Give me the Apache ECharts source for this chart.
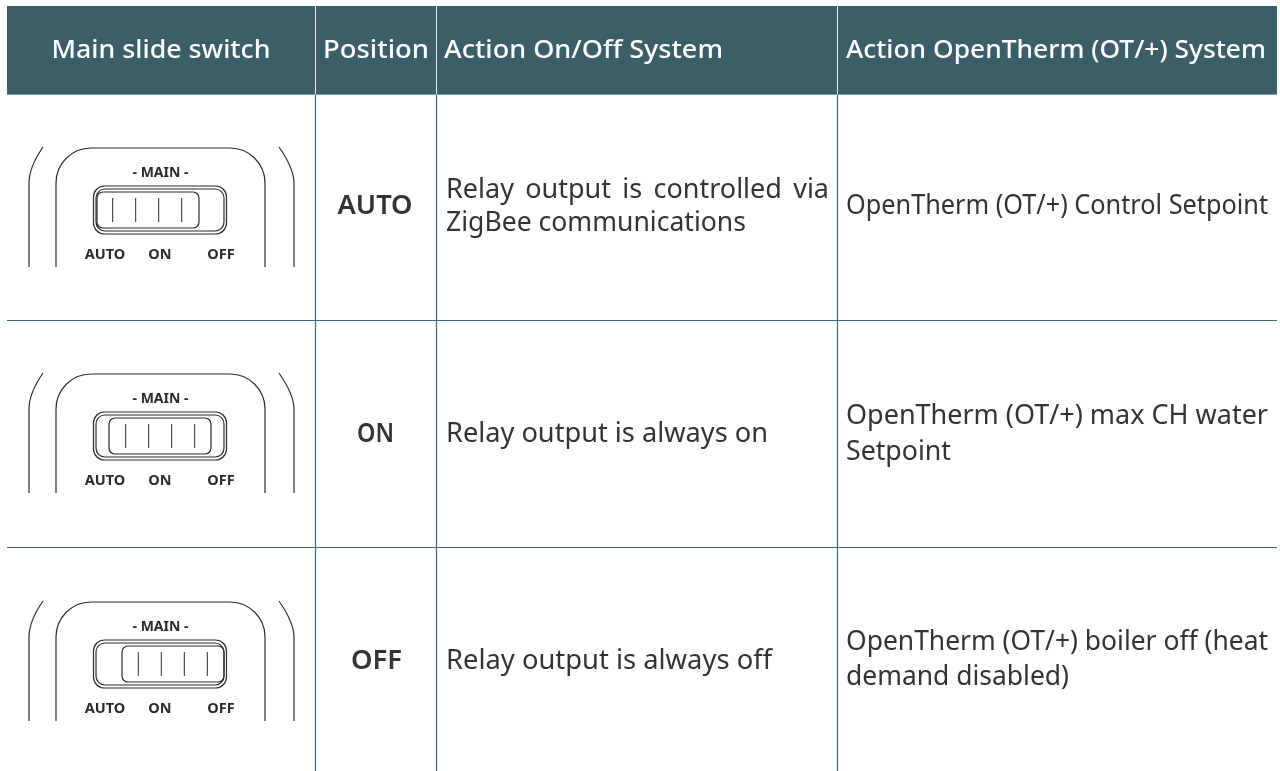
<!DOCTYPE html>
<html>
<head>
    <meta charset="utf-8">
    <script src="https://cdn.jsdelivr.net/npm/echarts@6/dist/echarts.min.js"></script>
    <style>html,body{margin:0;background:#fff}</style>
</head>
<body>
    <div id="main" style="width:1280px;height:771px;"></div>
    <script type="text/javascript">

var headers = ['Main slide switch', 'Position', 'Action On/Off System', 'Action OpenTherm (OT/+) System'];
var positions = ['AUTO', 'ON', 'OFF'];
var onOffLines = [
    ['Relay output is controlled via', 'ZigBee communications'],
    ['Relay output is always on'],
    ['Relay output is always off']
];
var openThermLines = [
    ['OpenTherm (OT/+) Control Setpoint'],
    ['OpenTherm (OT/+) max CH water', 'Setpoint'],
    ['OpenTherm (OT/+) boiler off (heat', 'demand disabled)']
];
var switchTitle = '- MAIN -';
var switchLabels = ['AUTO', 'ON', 'OFF'];

// layout
var FONT = '"Noto Sans"';
var HEAD = '#3c5e69', LINE = '#3f6875', INK = '#2b2b2b', TXT = '#333333';
var LEFT = 7, RIGHT = 1277;
var colLines = [315, 436, 837];
var rowLines = [320, 547];
var rowTop = [148, 374, 602];       // top of the switch drawing in each row
var sliderX = [97, 109, 122];
var tickX0 = [112.7, 125.7, 138.3];

// text baselines and measured widths
var headX = [161, 323, 444, 846], headAlign = ['center', 'left', 'left', 'left'];
var headWidth = [219, 106, 279, 420];
var posX = [375, 375.5, 376.5], posWidth = [75, 37, 51], posBase = [217, 445, 672];
var onOffBase = [[201, 234], [445], [672]];
var onOffWidth = [[383, 300], [322], [326]];
var otBase = [[217], [427, 463], [653, 688]];
var otWidth = [[422], [422, 105], [422, 223]];

var measure = document.createElement('canvas').getContext('2d');
function textW(t, size, weight) {
    measure.font = (weight || 'normal') + ' ' + size + 'px ' + FONT;
    return measure.measureText(t).width;
}

var els = [];

function line(x1, y1, x2, y2, color, w) {
    return {type: 'line', shape: {x1: x1, y1: y1, x2: x2, y2: y2}, style: {stroke: color, lineWidth: w}, silent: true};
}
function text(t, x, y, size, color, weight, align) {
    return {type: 'text', x: x, y: y, silent: true, style: {
        text: t, fill: color, fontFamily: FONT, fontSize: size, fontWeight: weight || 'normal',
        align: align || 'left', verticalAlign: 'middle'
    }};
}
// text placed on a baseline and squeezed to the width
function fitted(t, x, base, size, color, weight, align, width) {
    var el = text(t, x, base - 0.388 * size, size, color, weight, align);
    el.scaleX = width / textW(t, size, weight);
    return el;
}
// justified line: keep the glyphs, widen the gaps
function spread(t, x, base, size, color, width) {
    var words = t.split(' ');
    var used = 0;
    words.forEach(function (w) { used += textW(w, size); });
    var gap = (width - used) / (words.length - 1);
    words.forEach(function (w) {
        els.push(text(w, x, base - 0.388 * size, size, color));
        x += textW(w, size) + gap;
    });
}
function rrect(x, y, w, h, r, lw) {
    return {type: 'rect', shape: {x: x, y: y, width: w, height: h, r: r}, style: {fill: 'none', stroke: INK, lineWidth: lw}, silent: true};
}
function corner(cx, cy, r, a0, a1) {
    return {type: 'arc', shape: {cx: cx, cy: cy, r: r, startAngle: a0, endAngle: a1, clockwise: true}, style: {fill: 'none', stroke: INK, lineWidth: 1.2}, silent: true};
}
function curve(x1, y1, c1x, c1y, c2x, c2y, x2, y2) {
    return {type: 'bezierCurve', shape: {x1: x1, y1: y1, cpx1: c1x, cpy1: c1y, cpx2: c2x, cpy2: c2y, x2: x2, y2: y2}, style: {fill: 'none', stroke: INK, lineWidth: 1.2}, silent: true};
}

// header band
els.push({type: 'rect', shape: {x: LEFT, y: 6, width: RIGHT - LEFT, height: 88}, style: {fill: HEAD}, silent: true});
colLines.forEach(function (x) {
    els.push(line(x + 0.5, 6, x + 0.5, 94, '#e8eef0', 1));
    els.push(line(x + 0.5, 94, x + 0.5, 771, LINE, 1.2));
});
els.push(line(LEFT, 94.5, RIGHT, 94.5, '#7d99a3', 1));
rowLines.forEach(function (y) {
    els.push(line(LEFT, y + 0.5, RIGHT, y + 0.5, LINE, 1.2));
});

headers.forEach(function (h, i) {
    els.push(fitted(h, headX[i], 61, 26, '#ffffff', 500, headAlign[i], headWidth[i]));
});

// one switch drawing per row
positions.forEach(function (p, i) {
    var t = rowTop[i];
    var bottom = t + 119;
    // outer body sides
    els.push(curve(43, t - 1, 34, t + 12, 29, t + 24, 29, t + 35));
    els.push(line(29, t + 35, 29, bottom, INK, 1.2));
    els.push(curve(279, t - 1, 288, t + 12, 294, t + 24, 294, t + 35));
    els.push(line(294, t + 35, 294, bottom, INK, 1.2));
    // inner body, open at the bottom
    els.push(corner(91, t + 35, 35, Math.PI, 1.5 * Math.PI));
    els.push(corner(230, t + 35, 35, 1.5 * Math.PI, 2 * Math.PI));
    els.push(line(91, t, 230, t, INK, 1.2));
    els.push(line(56, t + 35, 56, bottom, INK, 1.2));
    els.push(line(265, t + 35, 265, bottom, INK, 1.2));
    // slide track
    els.push(rrect(93.5, t + 38, 133, 48, 11, 1.2));
    els.push(rrect(96, t + 41, 128, 42, 9, 1.2));
    // slider
    els.push(rrect(sliderX[i], t + 44, 102, 36, 6, 1.2));
    for (var k = 0; k < 4; k++) {
        var tx = tickX0[i] + k * 23;
        els.push(line(tx, t + 50, tx, t + 74, INK, 1));
    }
    els.push(text(switchTitle, 160.5, t + 25, 14, INK, 'bold', 'center'));
    els.push(text(switchLabels[0], 105, t + 107, 14.5, INK, 'bold', 'center'));
    els.push(text(switchLabels[1], 160, t + 107, 14.5, INK, 'bold', 'center'));
    els.push(text(switchLabels[2], 221, t + 107, 14.5, INK, 'bold', 'center'));

    // text columns
    els.push(fitted(p, posX[i], posBase[i], 27, TXT, 600, 'center', posWidth[i]));
    onOffLines[i].forEach(function (s, j) {
        var w = onOffWidth[i][j];
        if (w > textW(s, 27) * 1.02) {
            spread(s, 446, onOffBase[i][j], 27, TXT, w);
        } else {
            els.push(fitted(s, 446, onOffBase[i][j], 27, TXT, 'normal', 'left', w));
        }
    });
    openThermLines[i].forEach(function (s, j) {
        els.push(fitted(s, 846, otBase[i][j], 27, TXT, 'normal', 'left', otWidth[i][j]));
    });
});

var option = {
    animation: false,
    backgroundColor: '#ffffff',
    graphic: {elements: els}
};

var myChart = echarts.init(document.getElementById('main'));
myChart.setOption(option);
    </script>
</body>
</html>
